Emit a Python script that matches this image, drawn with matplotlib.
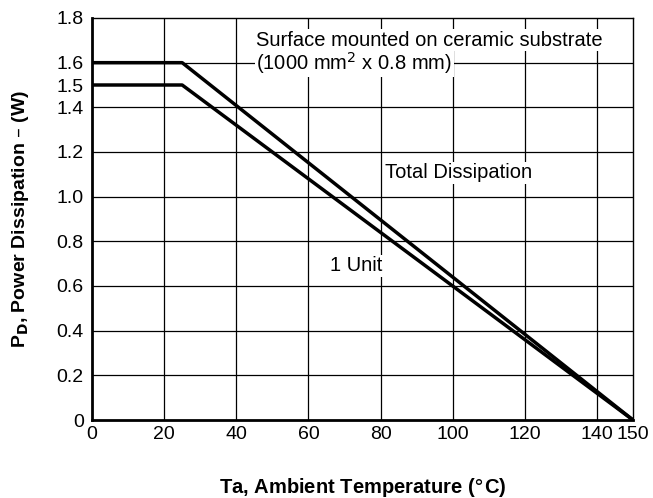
import matplotlib.pyplot as plt

plt.rcParams['font.family'] = ['Liberation Sans', 'DejaVu Sans']

# Datos de las curvas de derating
temp = [0, 25, 150]
total = [1.6, 1.6, 0]
unidad = [1.5, 1.5, 0]

xticks = [0, 20, 40, 60, 80, 100, 120, 140, 150]
yticks = [0, 0.2, 0.4, 0.6, 0.8, 1.0, 1.2, 1.4, 1.5, 1.6, 1.8]
ylabels = ['0', '0.2', '0.4', '0.6', '0.8', '1.0', '1.2', '1.4', '1.5', '1.6', '1.8']
xgrid = [20, 40, 60, 80, 100, 120, 140]
ygrid = [0.2, 0.4, 0.6, 0.8, 1.0, 1.2, 1.4, 1.6]

fig = plt.figure(figsize=(6.53, 4.98), dpi=100)
ax = fig.add_axes([92/653, 78/498, 541/653, 402/498])

# Rejilla
for gx in xgrid:
    ax.axvline(gx, color='black', lw=0.9, zorder=1)
for gy in ygrid:
    ax.axhline(gy, color='black', lw=0.9, zorder=1)

ax.plot(temp, total, color='black', lw=2.5, zorder=3)
ax.plot(temp, unidad, color='black', lw=2.5, zorder=3)

ax.set_xlim(0, 150)
ax.set_ylim(0, 1.8)
ax.set_xticks(xticks)
ax.set_yticks(yticks)
ax.set_yticklabels(ylabels)
ax.tick_params(length=0, labelsize=14)
ax.tick_params(axis='x', pad=4)
ax.tick_params(axis='y', pad=6)

for s in ['left', 'bottom']:
    ax.spines[s].set_linewidth(2)
for s in ['top', 'right']:
    ax.spines[s].set_linewidth(1)

# Textos
caja = dict(facecolor='white', edgecolor='none', pad=1)
ax.text(45.5, 1.70, 'Surface mounted on ceramic substrate',
        fontsize=14.5, ha='left', va='center', zorder=2, bbox=caja)
ax.text(45.5, 1.60, '(1000 mm$^2$ x 0.8 mm)',
        fontsize=14.5, ha='left', va='center', zorder=2, bbox=caja)
ax.text(81.2, 1.106, 'Total Dissipation', fontsize=14.5, ha='left', va='center', zorder=2, bbox=caja)
ax.text(66, 0.69, '1 Unit', fontsize=14.5, ha='left', va='center', zorder=2, bbox=caja)

ax.set_xlabel('Ta, Ambient Temperature ($\\degree$C)', fontsize=14.5, fontweight='bold', labelpad=24)
ax.set_ylabel('P$_\\mathbf{D}$, Power Dissipation – (W)', fontsize=14, fontweight='bold', labelpad=18)

fig.savefig('out.png', dpi=100)
